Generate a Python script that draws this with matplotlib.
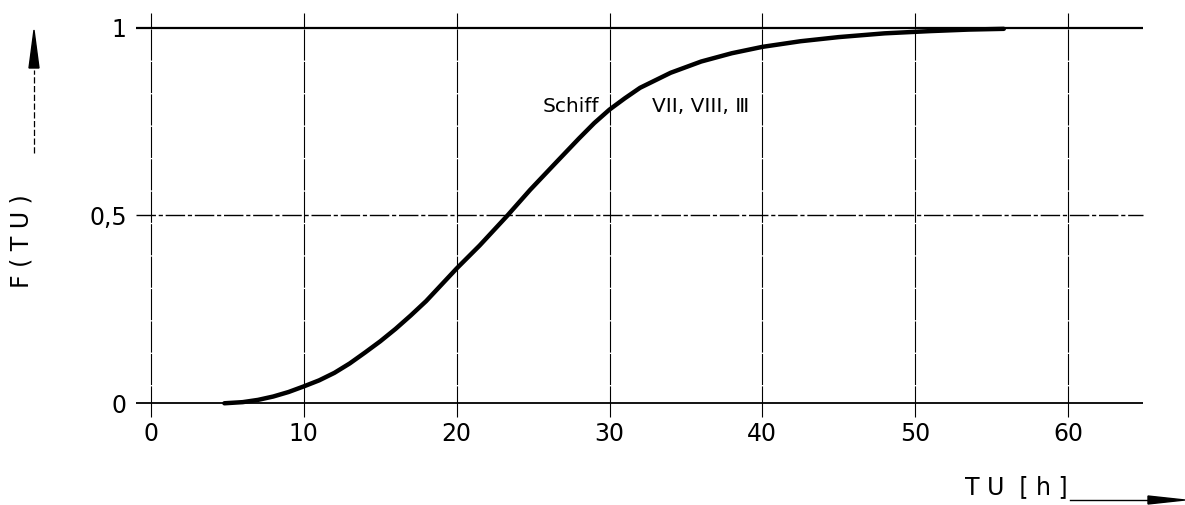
import numpy as np
import matplotlib.pyplot as plt

# curve (TU in h, F(TU))
tu = [4.8, 6, 7, 8, 9, 10, 11, 12, 13, 14, 15, 16, 17, 18, 20, 21.5, 23.3,
      24.8, 26.5, 28, 29, 30, 31, 32, 34, 36, 38, 40, 42.5, 45, 48, 51,
      53.5, 55.8]
f_tu = [0.0, 0.003, 0.009, 0.018, 0.03, 0.045, 0.061, 0.081, 0.106, 0.135,
        0.165, 0.198, 0.234, 0.272, 0.359, 0.42, 0.499, 0.568, 0.641, 0.705,
        0.746, 0.782, 0.812, 0.84, 0.88, 0.91, 0.932, 0.949, 0.964, 0.975,
        0.985, 0.991, 0.995, 0.997]

x_ticks = [0, 10, 20, 30, 40, 50, 60]
x_tick_labels = ["0", "10", "20", "30", "40", "50", "60"]
y_ticks = [0, 0.5, 1]
y_tick_labels = ["0", "0,5", "1"]

fig = plt.figure(figsize=(11.85, 5.05), dpi=100)
ax = fig.add_axes([0.1081, 0.1717, 0.8641, 0.8069])
ax.set_xlim(-1.5, 65.5)
ax.set_ylim(-0.04, 1.045)
for s in ax.spines.values():
    s.set_visible(False)

# hand drawn grid
ax.vlines(x_ticks, -0.036, 1.04, color="black", lw=0.8,
          linestyles=[(0, (28, 1.2))] * len(x_ticks))
ax.hlines(0, -1.0, 64.9, color="black", lw=1.3)
ax.hlines(0.5, -1.0, 64.9, color="black", lw=1.0, linestyles=[(0, (14, 2, 3, 2))])
ax.hlines(1, -1.0, 64.9, color="black", lw=1.6)

ax.plot(tu, f_tu, color="black", lw=3.2, solid_capstyle="round",
        solid_joinstyle="round")

ax.set_xticks(x_ticks)
ax.set_xticklabels(x_tick_labels)
ax.set_yticks(y_ticks)
ax.set_yticklabels(y_tick_labels)
ax.tick_params(length=0, labelsize=17)
ax.tick_params(axis="x", pad=3)
ax.tick_params(axis="y", pad=1)

ax.text(25.6, 0.789, "Schiff", fontsize=14.5, va="center", ha="left")
ax.text(32.8, 0.789, "VII, VIII, Ⅲ", fontsize=14.5, va="center", ha="left")

# axis labels with arrows
fig.text(22 / 1185, 1 - 241 / 505, "F ( T U )", rotation=90, fontsize=17,
         ha="center", va="center")
fig.add_artist(plt.Line2D([34 / 1185, 34 / 1185], [1 - 153 / 505, 1 - 70 / 505],
                          color="black", lw=0.9, ls=(0, (5, 2))))
fig.add_artist(plt.Polygon([[29 / 1185, 1 - 68 / 505], [39 / 1185, 1 - 68 / 505],
                            [34 / 1185, 1 - 30 / 505]], closed=True, color="black"))

fig.text(1016 / 1185, 1 - 487 / 505, "T U  [ h ]", fontsize=17,
         ha="center", va="center")
fig.add_artist(plt.Line2D([1070 / 1185, 1150 / 1185], [1 - 500 / 505, 1 - 500 / 505],
                          color="black", lw=1.0))
fig.add_artist(plt.Polygon([[1148 / 1185, 1 - 496 / 505], [1148 / 1185, 1 - 504 / 505],
                            [1185 / 1185, 1 - 500 / 505]], closed=True, color="black"))

fig.savefig("out.png", dpi=100)
